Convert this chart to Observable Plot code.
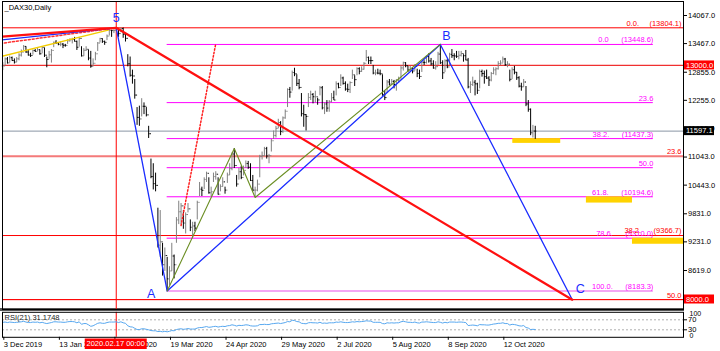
<!DOCTYPE html>
<html><head><meta charset="utf-8">
<script src="https://cdn.jsdelivr.net/npm/d3@7"></script>
<script src="https://cdn.jsdelivr.net/npm/@observablehq/plot@0.6"></script>
<style>
body{margin:0;background:#fff;}
#wrap{position:relative;width:720px;height:351px;overflow:hidden;background:#fff;}
#wrap svg{position:absolute;left:0;overflow:visible;}
#wrap text{white-space:pre;}
#sep{position:absolute;left:0;top:308px;width:684px;height:3px;background:#555;}
</style></head><body><div id="wrap"><div id="sep"></div></div>
<script>
// ---- daily bars (bar index 0 = 3 Dec 2019 ... 230 = 30 Oct 2020) ----
const hi = [13060,13160,13170,13200,13180,13140,13170,13250,13330,13425,13400,13320,13260,13330,13340,13380,13330,13400,13370,13180,
13300,13340,13500,13530,13490,13500,13470,13450,13550,13570,13580,13600,13520,13600,13400,13360,13400,13330,13300,13140,
13280,13490,13580,13570,13520,13650,13760,13750,13760,13804.1,13790,13800,13800,13680,13230,13180,12900,12700,12100,12130,
12290,12200,12100,11700,11000,10900,10700,9950,9900,9200,9100,8900,8700,9200,8950,9750,10100,10050,9900,9850,
10050,9700,9650,9650,10100,10500,10400,10600,10720,10600,10400,10700,10730,10600,10450,10600,10400,10700,10900,11130,
11226,10650,10800,10850,10850,10960,10950,10900,10650,10400,10550,11080,11150,11250,11250,11100,11420,11600,11700,11850,
11800,11900,12050,12500,12530,12880,12940,12800,12700,12400,12150,11950,12400,12450,12400,12450,12300,12550,12550,12200,
12250,12250,12400,12450,12650,12620,12800,12750,12650,12600,12650,12900,12780,12950,12950,12970,13060,13320,13180,13180,
13000,12900,12920,12900,12800,12460,12680,12700,12700,12680,12700,12750,12990,13070,13060,12980,12980,12950,13020,12920,
12900,13080,13100,13200,13250,13150,13100,13080,13280,13448.6,13100,13120,13130,13260,13340,13250,13300,13300,13300,13230,
13320,13150,12650,12750,12680,12620,12900,12900,12880,12900,12760,12850,12950,12950,13080,13100,13180,13150,13080,12900,
12950,12980,12850,12760,12620,12700,12550,12250,12070,11720,11700];
const lo = [12890,12990,13030,13050,13090,13030,13060,13100,13180,13320,13260,13200,13170,13220,13280,13300,13220,13250,13170,12950,
13130,13050,13380,13450,13420,13400,13360,13390,13450,13500,13460,13500,13320,13390,13180,13190,13300,13100,12940,12970,
13100,13300,13480,13470,13430,13530,13630,13600,13680,13730,13600,13700,13580,13500,12970,12750,12600,12280,11720,11700,
11900,11950,11900,11440,10580,10340,10300,9100,8900,8500,8600,8183.3,8300,8600,8440,9200,9600,9600,9500,9400,
9850,9450,9300,9450,9700,10200,10200,10350,10500,10250,10200,10500,10550,10230,10300,10400,10250,10480,10650,10750,
10800,10400,10550,10560,10640,10800,10780,10520,10300,10179,10300,10600,10980,11050,11000,10900,11150,11420,11450,11650,
11500,11550,11850,12100,12300,12450,12760,12550,12480,11900,11680,11600,12100,12250,12180,12200,12150,12350,12050,11950,
12000,12000,12200,12250,12350,12500,12550,12580,12450,12420,12400,12700,12550,12780,12800,12850,12900,13080,13020,13020,
12800,12780,12800,12780,12340,12250,12400,12560,12580,12500,12450,12620,12700,12880,12950,12850,12860,12820,12880,12740,
12700,12850,13000,13030,13050,12990,12920,12900,13000,13020,12700,12850,12930,13000,13150,13100,13150,13120,13180,13070,
13100,12500,12400,12550,12350,12380,12500,12750,12600,12700,12550,12650,12800,12780,12900,13000,13050,12980,12950,12650,
12700,12800,12680,12520,12450,12530,12120,12000,11500,11450,11420];
const cl = [12989,13140,13055,13166,13105,13071,13141,13222,13282,13407,13287,13222,13212,13319,13300,13337,13249,13386,13219,13127,
13227,13321,13495,13483,13451,13456,13432,13429,13526,13549,13556,13515,13389,13577,13205,13324,13345,13158,12982,13046,
13249,13479,13575,13514,13494,13628,13750,13745,13745,13784,13681,13789,13665,13579,13035,12790,12775,12367,11890,11857,
12128,12127,11944,11541,10625,10475,10438,9161,9232,8742,8939,8441,8610,8929,8742,9700,9874,10000,9633,9815,
9936,9544,9571,9525,10075,10357,10333,10565,10696,10280,10301,10626,10676,10250,10415,10513,10337,10660,10796,11108,
10862,10467,10729,10606,10759,10904,10825,10543,10337,10337,10465,11059,11075,11224,11066,11074,11391,11505,11657,11781,
11587,11880,12021,12487,12431,12848,12820,12617,12530,11970,11949,11911,12316,12382,12331,12331,12263,12524,12094,12177,
12089,12232,12311,12261,12608,12528,12733,12617,12495,12489,12634,12800,12697,12931,12875,12920,13046,13172,13104,13103,
12838,12839,12835,12822,12380,12313,12647,12601,12660,12592,12675,12688,12947,13059,12994,12901,12921,12882,12977,12830,
12765,13067,13062,13190,13096,13033,12945,12974,13243,13058,12843,13100,12968,13237,13209,13203,13194,13218,13255,13208,
13116,12542,12594,12643,12607,12469,12871,12826,12761,12731,12689,12828,12906,12929,13042,13051,13138,13019,13028,12704,
12909,12855,12737,12558,12543,12646,12177,12064,11561,11598,11597.1];
// ---- RSI(21) values ----
const rsi = [60,61,59,61,60,59,60,61,62,64,61,59,59,61,60,61,58,60,57,55,
57,59,62,62,61,61,60,60,62,63,63,62,58,62,52,55,55,50,44,46,
51,56,58,56,56,59,61,61,61,62,59,62,58,56,46,42,41,36,31,31,
34,34,32,30,27,26,26,23,24,22,24,22,24,27,26,31,33,34,32,33,
35,33,33,33,37,39,39,41,43,40,41,43,44,41,43,44,43,46,47,50,
48,45,48,47,48,50,49,46,45,45,46,51,51,52,51,51,54,55,56,57,
55,57,59,63,62,68,67,63,62,56,55,54,58,59,58,58,57,60,56,57,
56,58,58,58,61,60,62,60,59,59,60,62,61,63,62,63,64,66,65,65,
60,60,60,60,55,54,58,57,58,57,58,58,62,64,62,60,60,59,61,58,
57,61,61,62,61,60,59,59,62,60,57,60,58,61,61,61,60,61,61,60,
59,47,48,49,48,46,51,50,50,49,49,51,53,54,56,56,58,55,55,49,
52,51,49,46,45,47,39,37,31,32,31.1748];

// ---- x axis (bar index -> date label) ----
const tickBars = [0,24,48,72,96,120,144,168,192,216];
const tickLabels = ["3 Dec 2019","13 Jan 2020","14 Feb 2020","19 Mar 2020","24 Apr 2020","29 May 2020","2 Jul 2020","5 Aug 2020","8 Sep 2020","12 Oct 2020"];
const selectedBar = 49;
const selectedLabel = "2020.02.17 00:00";
// ---- price axis ----
const priceTicks = [14067,13467,12855,12255,11655,11043,10443,9831,9231,8619];
const currentPrice = 11597.1;
const hLinePrices = [13000, 8000];
const tagPrices = [13000, 11597.1, 8000];
const tagTexts = ["13000.0", "11597.1", "8000.0"];
// ---- red Fibonacci (full width) ----
const redFibPrices = [13804.1, 11062.7, 9366.7, 7996.0];
const redFibLabels = ["0.0.     (13804.1)", "23.6", "38.2.      (9366.7)", "50.0"];
// ---- magenta Fibonacci (A -> B) ----
const fibFromBar = 71, fibToBar = 281;
const magFibPrices = [13448.6, 12206.0, 11437.3, 10816.0, 10194.6, 9310.0, 8183.3];
const magFibLabels = ["0.0      (13448.6)", "23.6", "38.2.      (11437.3)", "50.0", "61.8.      (10194.6)", "78.6.      (9310.0)", "100.0.      (8183.3)"];
// ---- target zones ----
const zones = [
  {b1: 220.3, b2: 241.0, p1: 11437.3, p2: 11335},
  {b1: 252.1, b2: 272.0, p1: 10194.6, p2: 10060},
  {b1: 272.0, b2: 294.5, p1: 9310.0, p2: 9180}
];
// ---- drawn trend lines / wave points ----
const redLine = [{b:-1, p:13614},{b:49, p:13804.1},{b:246, p:7996}];
const blueLine = [{b:-1, p:13543},{b:49, p:13804.1},{b:71, p:8183.3},{b:189, p:13448.6},{b:246, p:7996}];
const yellowLine = [{b:-1, p:13190},{b:45.5, p:13755}];
const redDashLine = [{b:-1, p:13470},{b:49, p:13804.1}];
const oliveLine = [{b:71, p:8183.3},{b:100, p:11226},{b:109, p:10179},{b:189, p:13448.6}];
const redDotLine = [{b:77, p:9580},{b:92, p:13469}];
const waveNames = ["5", "A", "B", "C"];
const waveBars = [49, 71, 189, 246];
const wavePrices = [13804.1, 8183.3, 13448.6, 7996];

const FONT = '"Liberation Sans", Arial, sans-serif';
const xDom = [-0.13, 294.04];
const bars = hi.map((h, i) => ({i, h, l: lo[i], c: cl[i], o: i ? cl[i - 1] : cl[i]}));
const barColor = d => d.c >= d.o ? "#808080" : "#000000";
const waveOffsets = [[0, -10], [-16, 3], [6, -8], [8, -11]];
const waveMarks = waveNames.map((t, k) => Plot.text([k], {
  x: () => waveBars[k], y: () => wavePrices[k], text: () => t,
  fill: "#1a2cff", fontSize: 12.5, dx: waveOffsets[k][0], dy: waveOffsets[k][1]
}));

const main = Plot.plot({
  width: 720, height: 310, marginTop: 1, marginBottom: 1, marginLeft: 2, marginRight: 37,
  x: {domain: xDom, axis: null},
  y: {domain: [7786.3, 14366.1], axis: null},
  style: {fontFamily: FONT, fontSize: "7.5px", background: "transparent"},
  marks: [
    Plot.ruleY([currentPrice], {stroke: "#8996a4"}),
    Plot.ruleY(hLinePrices, {stroke: "#f03030", strokeWidth: 1.2}),
    Plot.ruleY(redFibPrices, {stroke: (d, i) => i === 1 ? "#f47a7a" : "#ff0000", strokeWidth: (d, i) => i === 1 ? 2 : 1}),
    Plot.ruleX([selectedBar], {stroke: "#ff0000"}),
    Plot.ruleY(magFibPrices, {x1: fibFromBar, x2: fibToBar, stroke: (d, i) => i === 6 ? "#f4a6f4" : "#ff00ff", strokeWidth: (d, i) => i === 6 ? 2 : 1}),
    Plot.rect(zones, {x1: "b1", x2: "b2", y1: "p1", y2: "p2", fill: "#ffd300"}),
    Plot.ruleX(bars, {x: "i", y1: "l", y2: "h", stroke: barColor}),
    Plot.link(bars, {x1: d => d.i - 0.45, x2: "i", y1: "o", y2: "o", stroke: barColor}),
    Plot.link(bars, {x1: "i", x2: d => d.i + 0.45, y1: "c", y2: "c", stroke: barColor}),
    Plot.line(yellowLine, {x: "b", y: "p", stroke: "#f2cc00", strokeWidth: 1.5, clip: true}),
    Plot.line(redDashLine, {x: "b", y: "p", stroke: "#ff3030", strokeDasharray: "2,2", clip: true}),
    Plot.line(blueLine, {x: "b", y: "p", stroke: "#1a2cff", strokeWidth: 1.3, clip: true}),
    Plot.line(oliveLine, {x: "b", y: "p", stroke: "#6b8e23", strokeWidth: 1.1}),
    Plot.line(redDotLine, {x: "b", y: "p", stroke: "#ff2020", strokeDasharray: "1.5,2"}),
    Plot.line(redLine, {x: "b", y: "p", stroke: "#ff1010", strokeWidth: 2.2, clip: true}),
    Plot.text(magFibPrices, {x: fibToBar, y: d => d, text: (d, i) => magFibLabels[i], textAnchor: "end", dy: -4.5, fill: "#ff00ff"}),
    Plot.text(redFibPrices, {frameAnchor: "right", y: d => d, text: (d, i) => redFibLabels[i], textAnchor: "end", dx: -2, dy: -4.5, fill: "#ff0000"}),
    ...waveMarks,
    Plot.text(["_DAX30,Daily"], {frameAnchor: "top-left", dx: 2, dy: 3, fill: "#000"}),
    Plot.frame({stroke: "#000"}),
    Plot.axisY({anchor: "right", ticks: priceTicks, tickFormat: d => d.toFixed(1), tickSize: 3, tickPadding: 1.5, fill: "#000"})
  ]
});
document.getElementById("wrap").appendChild(main);
main.style.top = "0px";

// price tags on the right axis, placed with the plot's own y scale
const ys = main.scale("y");
const tagFills = ["#ff0000", "#000000", "#ff0000"];
const gm = d3.select(main).append("g").attr("font-family", FONT).attr("font-size", "7.5px").attr("text-anchor", "start");
tagPrices.forEach((p, k) => {
  const y = ys.apply(p);
  gm.append("rect").attr("x", 684).attr("y", y - 4.5).attr("width", 30).attr("height", 9).attr("fill", tagFills[k]);
  gm.append("text").attr("x", 686).attr("y", y).attr("dy", "0.35em").attr("text-anchor", "start").attr("fill", "#fff").text(tagTexts[k]);
});

// ---- RSI panel ----
const rsiPlot = Plot.plot({
  width: 720, height: 42, marginTop: 2.8, marginBottom: 14.2, marginLeft: 2, marginRight: 37,
  x: {domain: xDom, axis: null},
  y: {domain: [0, 100], axis: null},
  style: {fontFamily: FONT, fontSize: "7.5px", background: "transparent"},
  marks: [
    Plot.ruleY([30, 70], {stroke: "#b0b0b0", strokeDasharray: "2,2"}),
    Plot.ruleX([selectedBar], {stroke: "#ff0000"}),
    Plot.line(rsi, {x: (d, i) => i, y: d => d, stroke: "#58a8f0", strokeWidth: 1}),
    Plot.text(["RSI(21) 31.1748"], {frameAnchor: "top-left", dx: 2, dy: 2, fill: "#222"}),
    Plot.frame({stroke: "#000"}),
    Plot.axisY({anchor: "right", ticks: [70, 30], tickSize: 3, tickPadding: 1.5, fill: "#000"}),
    Plot.text([100], {frameAnchor: "right", y: d => d, text: d => String(d), textAnchor: "start", dx: 6, dy: 1.5, fill: "#000", fontSize: 7}),
    Plot.text([0], {frameAnchor: "right", y: d => d, text: d => String(d), textAnchor: "start", dx: 6, dy: -1.5, fill: "#000", fontSize: 7}),
    Plot.axisX({anchor: "bottom", ticks: tickBars, tickFormat: d => tickLabels[tickBars.indexOf(d)], tickSize: 3, tickPadding: 1, textAnchor: "start", dx: 1, fill: "#000"})
  ]
});
document.getElementById("wrap").appendChild(rsiPlot);
rsiPlot.style.top = "309px";
const xs = rsiPlot.scale("x");
const gr = d3.select(rsiPlot).append("g").attr("font-family", FONT).attr("font-size", "7.5px");
const sx = xs.apply(selectedBar);
gr.append("rect").attr("x", sx - 31).attr("y", 29.5).attr("width", 62).attr("height", 10.5).attr("fill", "#ff0000");
gr.append("text").attr("x", sx).attr("y", 34.8).attr("dy", "0.35em").attr("text-anchor", "middle").attr("fill", "#fff").text(selectedLabel);
</script>
</body></html>
